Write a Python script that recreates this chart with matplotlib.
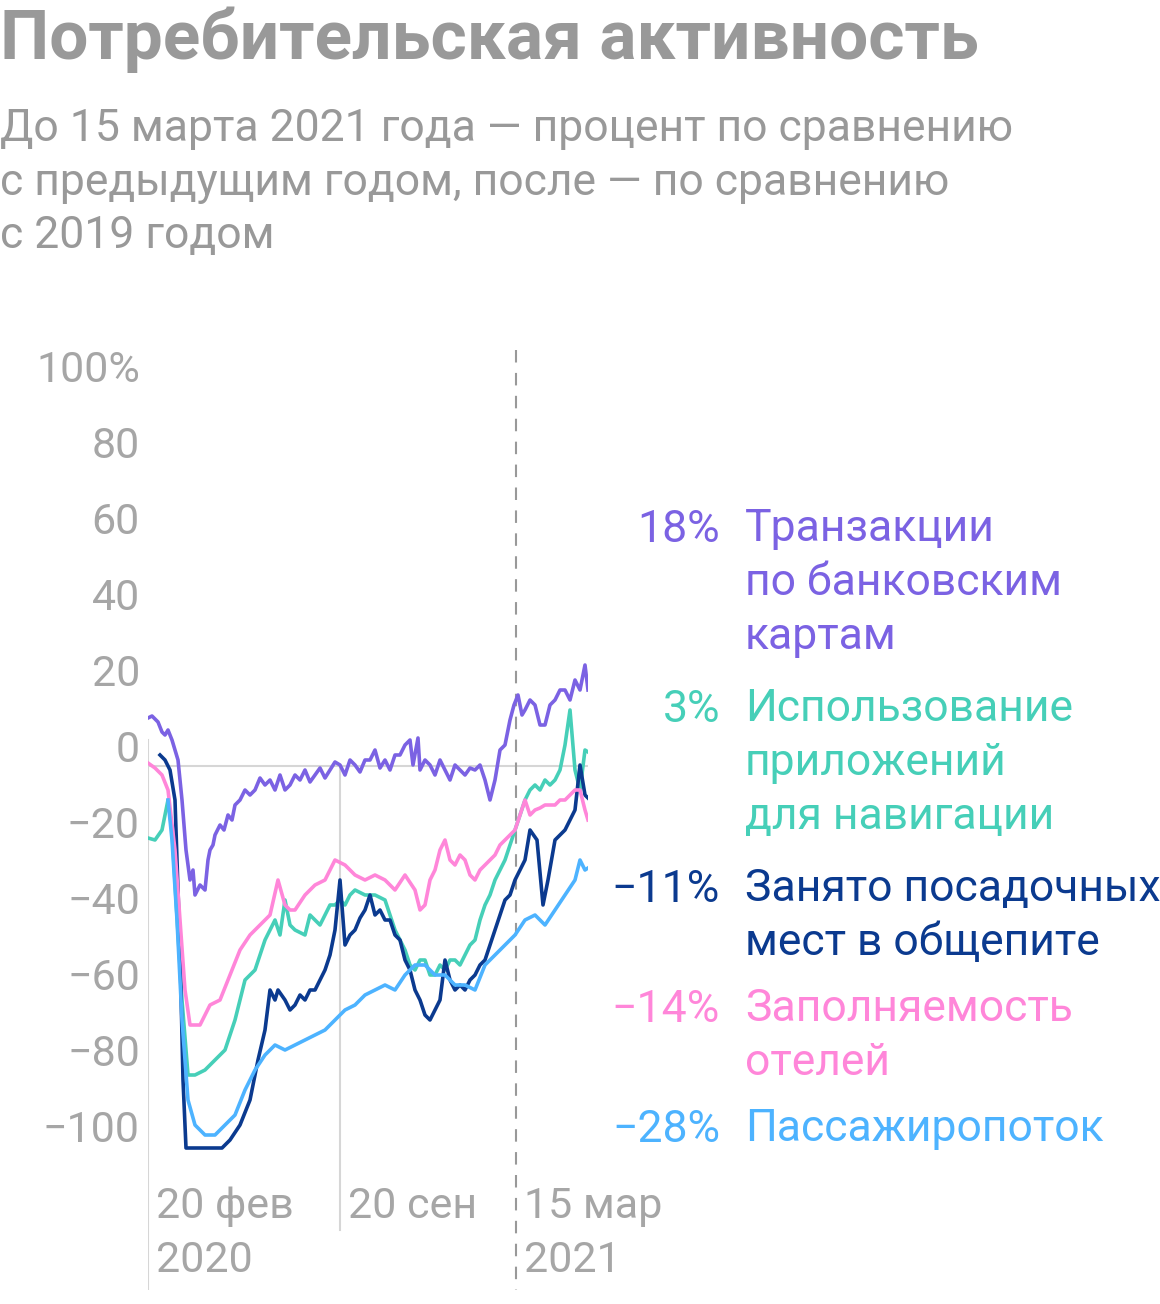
import matplotlib
matplotlib.use("Agg")
import matplotlib.pyplot as plt
import numpy as np

plt.rcParams["font.family"] = "Roboto"

W, H = 1160, 1304
PXD = 0.946
def conv(pts):
    a = np.array(pts, float)
    return (a[:, 0] - 148) / PXD, (766 - a[:, 1]) / 3.8

cards = [(148,718),(152,716),(158,722),(162,732),(165,735),(168,730),(172,740),(178,760),(182,800),(186,850),(190,880),(193,870),(195,895),(200,885),(205,890),(208,860),(210,850),(213,845),(215,835),(220,825),(224,830),(228,815),(232,820),(235,805),(240,800),(245,790),(250,795),(255,790),(260,778),(265,785),(270,780),(275,790),(280,775),(285,790),(290,785),(295,775),(300,780),(305,770),(310,782),(315,775),(320,768),(325,778),(330,770),(335,762),(340,765),(345,775),(350,760),(355,765),(360,772),(365,760),(370,760),(375,750),(380,768),(385,760),(390,770),(395,755),(400,755),(405,745),(410,740),(413,765),(418,738),(420,770),(425,760),(430,765),(435,775),(440,760),(445,770),(450,780),(455,765),(460,770),(465,775),(470,768),(475,770),(480,765),(485,780),(490,800),(495,780),(500,750),(505,745),(510,720),(514,705),(518,695),(522,715),(525,710),(530,700),(535,705),(540,725),(545,725),(550,705),(555,700),(560,690),(565,690),(570,700),(575,680),(580,690),(585,665),(588,690)]
nav = [(148,838),(155,840),(162,830),(168,800),(172,830),(176,900),(182,1000),(188,1075),(195,1075),(205,1070),(215,1060),(225,1050),(235,1020),(245,980),(255,970),(265,940),(275,920),(280,935),(285,900),(290,925),(295,930),(305,935),(310,915),(315,920),(320,925),(325,915),(330,905),(335,905),(340,900),(345,905),(350,895),(355,890),(365,895),(375,895),(385,900),(390,915),(395,930),(400,940),(405,950),(410,965),(415,970),(420,960),(425,960),(430,975),(435,975),(440,965),(445,970),(450,960),(455,960),(460,965),(465,955),(470,945),(475,940),(480,920),(485,905),(490,895),(495,880),(500,870),(505,860),(510,845),(515,830),(520,815),(525,800),(530,790),(535,785),(540,790),(545,780),(550,785),(555,780),(560,770),(565,745),(570,710),(575,770),(580,790),(585,750),(588,752)]
rest = [(160,755),(165,760),(170,770),(175,800),(180,950),(183,1080),(186,1148),(200,1148),(222,1148),(230,1140),(240,1125),(250,1100),(258,1060),(265,1030),(270,990),(275,1000),(278,990),(285,1000),(290,1010),(295,1005),(300,995),(305,1000),(310,990),(315,990),(320,980),(325,970),(330,955),(335,930),(340,880),(345,945),(350,935),(355,930),(360,918),(365,910),(370,895),(375,915),(380,910),(385,920),(390,920),(395,935),(400,940),(405,960),(410,970),(415,990),(420,1000),(425,1015),(430,1020),(435,1010),(440,1000),(445,960),(450,980),(455,990),(460,985),(465,990),(470,980),(475,975),(480,965),(485,960),(490,945),(495,930),(500,915),(505,900),(510,895),(515,880),(520,870),(525,860),(530,830),(537,840),(543,905),(548,880),(555,840),(560,835),(565,830),(570,820),(575,810),(580,765),(585,795),(588,798)]
hotels = [(148,763),(155,768),(162,775),(168,790),(175,850),(180,920),(185,990),(190,1025),(200,1025),(210,1005),(220,1000),(230,975),(240,950),(250,935),(260,925),(270,915),(278,880),(285,905),(290,910),(295,910),(305,895),(315,885),(325,880),(335,860),(345,865),(355,875),(365,880),(375,875),(385,880),(395,890),(405,875),(415,890),(420,910),(425,905),(430,880),(435,870),(440,850),(445,840),(450,860),(455,865),(460,855),(465,860),(470,875),(475,880),(480,870),(485,865),(490,860),(495,855),(500,845),(505,840),(510,835),(515,830),(520,815),(525,800),(530,815),(535,810),(540,808),(545,805),(550,805),(555,805),(560,800),(565,800),(570,795),(575,790),(580,790),(585,810),(588,820)]
pax = [(168,800),(172,840),(177,920),(182,1020),(188,1100),(195,1125),(205,1135),(215,1135),(225,1125),(235,1115),(245,1090),(255,1070),(265,1055),(275,1045),(285,1050),(295,1045),(305,1040),(315,1035),(325,1030),(335,1020),(345,1010),(355,1005),(365,995),(375,990),(385,985),(395,990),(405,975),(415,965),(425,965),(435,975),(445,975),(455,985),(465,985),(475,990),(485,965),(495,955),(505,945),(515,935),(525,920),(535,915),(545,925),(555,910),(565,895),(575,880),(580,860),(585,870),(588,868)]

series_names = ["Транзакции\nпо банковским\nкартам", "Использование\nприложений\nдля навигации",
                "Занято посадочных\nмест в общепите", "Заполняемость\nотелей", "Пассажиропоток"]
series_values = ["18%", "3%", "−11%", "−14%", "−28%"]
series_data = [cards, nav, rest, hotels, pax]
colors = ["#7b62e3", "#46cfb8", "#0b3a8f", "#ff86d9", "#4db3ff"]
legend_y = [530, 710, 890, 1010, 1130]
ytick_vals = [100, 80, 60, 40, 20, 0, -20, -40, -60, -80, -100]
ytick_labels = ["100%", "80", "60", "40", "20", "0", "−20", "−40", "−60", "−80", "−100"]
x_lines = [0, 203]
x_dash = 389
x_labels = [(0, "20 фев\n2020"), (203, "20 сен"), (389, "15 мар\n2021")]

fig = plt.figure(figsize=(W/100, H/100), dpi=100)
def fx(px): return px / W
def fy(py): return 1 - py / H

ax = fig.add_axes([fx(148), fy(1290), fx(588) - fx(148), fy(350) - fy(1290)])
ax.set_xlim(0, (588 - 148) / PXD)
ax.set_ylim((766 - 1290) / 3.8, (766 - 350) / 3.8)
ax.axis("off")
ax.axhline(0, color="#d6d6d6", lw=1.5, zorder=1)
ax.plot([x_lines[0]] * 2, [(766 - 740) / 3.8, (766 - 1290) / 3.8], color="#d6d6d6", lw=1.5, zorder=1)
ax.plot([x_lines[1]] * 2, [0, (766 - 1230) / 3.8], color="#d6d6d6", lw=1.5, zorder=1)
ax.plot([x_dash, x_dash], [(766 - 350) / 3.8, (766 - 1290) / 3.8], color="#999999", lw=1.5, ls=(0, (6, 5)), zorder=1)

for d, c in zip(series_data, colors):
    x, y = conv(d)
    ax.plot(x, y, color=c, lw=2.6, zorder=3)

grey = "#999999"
for v, lab in zip(ytick_vals, ytick_labels):
    fig.text(fx(140), fy(766 - v * 3.8 - 16), lab, ha="right", va="center", fontsize=31, color="#a6a6a6")
for xv, lab in x_labels:
    px = 148 + xv * PXD
    fig.text(fx(px + 8), fy(1186), lab, ha="left", va="top", fontsize=31, color="#a6a6a6", linespacing=1.42)

for name, val, c, yy in zip(series_names, series_values, colors, legend_y):
    fig.text(fx(720), fy(yy), val, ha="right", va="center", fontsize=32, color=c)
    fig.text(fx(745), fy(yy - 22), name, ha="left", va="top", fontsize=32, color=c, linespacing=1.37)

fig.text(fx(0), fy(40), "Потребительская активность", ha="left", va="center", fontsize=50, fontweight="bold", color=grey)
fig.text(fx(0), fy(108), "До 15 марта 2021 года — процент по сравнению\nс предыдущим годом, после — по сравнению\nс 2019 годом",
         ha="left", va="top", fontsize=32, color=grey, linespacing=1.35)

fig.savefig("out.png", dpi=100)
